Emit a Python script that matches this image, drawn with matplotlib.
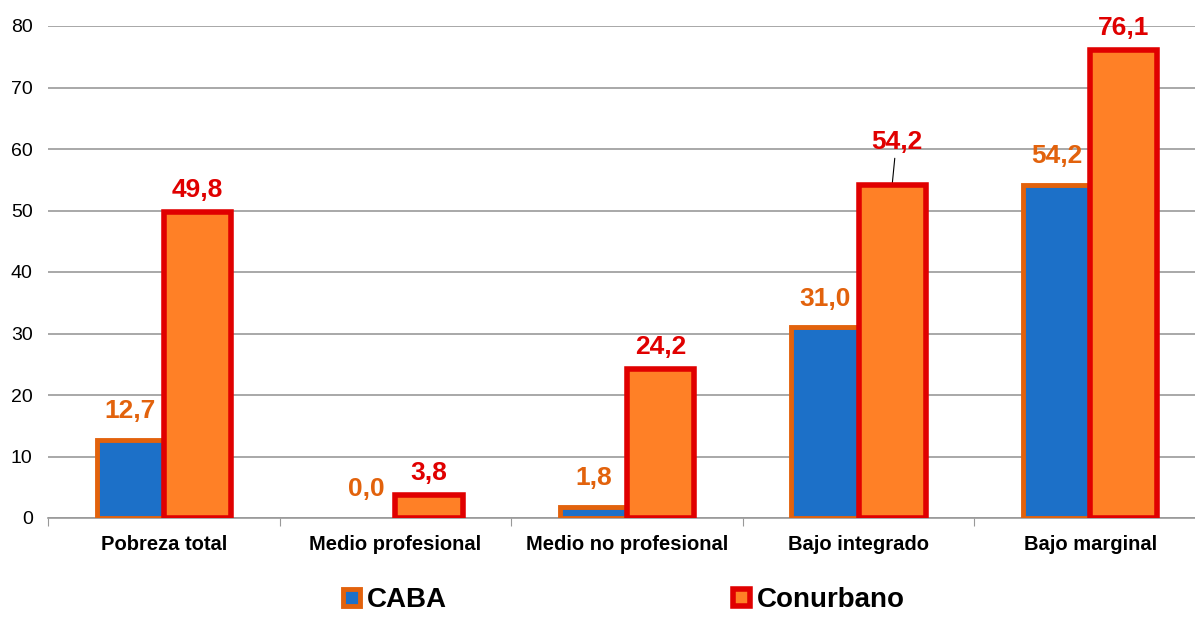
import matplotlib.pyplot as plt
import numpy as np

categorias = ['Pobreza total', 'Medio profesional', 'Medio no profesional',
              'Bajo integrado', 'Bajo marginal']
caba = [12.7, 0.0, 1.8, 31.0, 54.2]
conurbano = [49.8, 3.8, 24.2, 54.2, 76.1]
yticks = [0, 10, 20, 30, 40, 50, 60, 70, 80]

plt.rcParams['font.family'] = ['Liberation Sans', 'DejaVu Sans']

fig = plt.figure(figsize=(11.95, 6.17), dpi=100)
ax = fig.add_axes([48 / 1195, 99 / 617, 1158 / 1195, 492 / 617])

x = np.arange(len(categorias))
w = 0.29
lw1 = [3.5 if v > 0 else 0 for v in caba]
b1 = ax.bar(x - w / 2, caba, w, color='#1C70C8', edgecolor='#E2620C',
            linewidth=lw1, label='CABA', zorder=3)
b2 = ax.bar(x + w / 2, conurbano, w, color='#FF8026', edgecolor='#E00000',
            linewidth=4, label='Conurbano', zorder=4)

def fmt(v):
    return f'{v:.1f}'.replace('.', ',')

for i, v in enumerate(caba):
    ax.annotate(fmt(v), (x[i] - w / 2, v), xytext=(3 if v == 0 else 0, 12),
                textcoords='offset points', ha='center', va='bottom',
                fontsize=19, fontweight='bold', color='#E2620C')
for i, v in enumerate(conurbano):
    if i == 3:
        ax.annotate(fmt(v), (x[i] + w / 2, v), xytext=(3, 22), textcoords='offset points',
                    ha='center', va='bottom', fontsize=19, fontweight='bold', color='#E00000',
                    arrowprops=dict(arrowstyle='-', color='black', lw=0.8,
                                    shrinkA=1, shrinkB=0))
    else:
        ax.annotate(fmt(v), (x[i] + w / 2, v), xytext=(0, 7), textcoords='offset points',
                    ha='center', va='bottom', fontsize=19, fontweight='bold', color='#E00000')

ax.set_xlim(-0.5, len(categorias) - 0.5)
ax.set_ylim(0, 80)
ax.set_yticks(yticks)
ax.yaxis.grid(True, color='#999999', linewidth=1.2, zorder=0)
ax.set_axisbelow(True)
for s in ['left', 'right', 'top']:
    ax.spines[s].set_visible(False)
ax.spines['bottom'].set_color('#999999')
ax.spines['bottom'].set_linewidth(1.2)

ax.set_xticks(np.arange(-0.5, len(categorias), 1.0))
ax.set_xticklabels([])
ax.tick_params(axis='x', length=6, color='#999999')
ax.set_xticks(x, minor=True)
ax.set_xticklabels(categorias, minor=True, fontsize=14.5, fontweight='bold')
ax.tick_params(axis='x', which='minor', length=0, pad=12)
ax.tick_params(axis='y', length=0, labelsize=14, pad=11)

fig.legend(handles=[b1, b2], loc='center', bbox_to_anchor=(0.522, 0.027), ncol=2,
           frameon=False, prop={'size': 20, 'weight': 'bold'},
           handlelength=0.6, handleheight=0.6, handletextpad=0.25, columnspacing=10.3)

fig.savefig('out.png', dpi=100)
